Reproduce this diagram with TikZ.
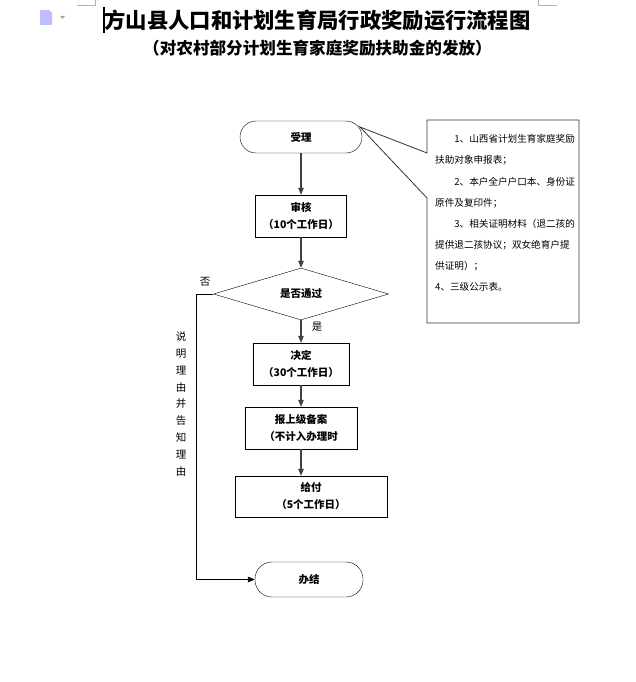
\documentclass[tikz,border=0pt]{standalone}
\usepackage{fontspec}
\usepackage{xcolor}
\usetikzlibrary{shapes.geometric, arrows.meta}
\newfontfamily\cjk{Noto Sans CJK SC}

\tikzset{
  terminal/.style={rectangle, draw, rounded corners=16pt, inner sep=0pt,
    font=\cjk\bfseries\fontsize{10.5}{12}\selectfont},
  procbox/.style={rectangle, draw, inner sep=0pt, align=center,
    font=\cjk\bfseries\fontsize{10.5}{17}\selectfont},
  decision/.style={diamond, draw, inner sep=0pt, minimum width=175pt, minimum height=37pt,
    font=\cjk\bfseries\fontsize{10.5}{12}\selectfont},
  flow/.style={draw=black!75, line width=1.1pt, -{Triangle[length=7pt,width=5.5pt]}},
  tag/.style={font=\cjk\fontsize{10.5}{12}\selectfont, inner sep=0pt}
}

\begin{document}
\begin{tikzpicture}[x=1pt, y=-1pt]
  \useasboundingbox (0,0) rectangle (635,682);

  % page marks, icon and cursor
  \draw[black!30] (77,5) -- (95,5) -- (95,0);
  \draw[black!30] (538,0) -- (538,5) -- (557,5);
  \fill[blue!25] (40,10) -- (49,10) -- (52,13) -- (52,25) -- (40,25) -- cycle;
  \fill[black!35] (60,16) -- (65,16) -- (62.5,19) -- cycle;
  \draw[line width=1.2pt] (104,7) -- (104,33);

  % titles
  \node[font=\cjk\bfseries\fontsize{21.3}{24}\selectfont] (title) at (317.5,20) {方山县人口和计划生育局行政奖励运行流程图};
  \node[font=\cjk\bfseries\fontsize{16.6}{19}\selectfont] (subtitle) at (317.5,48) {（对农村部分计划生育家庭奖励扶助金的发放）};

  % flow
  \node[terminal, minimum width=122pt, minimum height=32pt] (accept) at (301,137) {受理};
  \node[procbox, minimum width=91pt, minimum height=42pt] (review) at (301,216) {审核\\（10个工作日）};
  \node[decision] (check) at (301,294) {是否通过};
  \node[procbox, minimum width=96pt, minimum height=42pt] (decide) at (301,364) {决定\\（30个工作日）};
  \node[procbox, minimum width=112pt, minimum height=42pt] (report) at (301,428) {报上级备案\\（不计入办理时};
  \node[procbox, minimum width=152pt, minimum height=41pt] (pay) at (311,496.5) {给付\\（5个工作日）};
  \node[terminal, rounded corners=17pt, minimum width=108pt, minimum height=35pt] (finish) at (309,579.5) {办结};

  \node[tag] (no) at (205,282) {否};
  \node[tag] (yes) at (317,327) {是};
  \node[tag, align=center, font=\cjk\fontsize{10.5}{16.8}\selectfont] (reason) at (181,404)
    {说\\明\\理\\由\\并\\告\\知\\理\\由};

  \coordinate (nobend) at (196,294);

  \draw[flow] (accept) -- (review);
  \draw[flow] (review) -- (check);
  \draw[flow] (check) -- (decide);
  \draw[flow] (decide) -- (report);
  \draw[flow] (report) -- (report |- pay.north);
  \draw[black, line width=0.9pt, -{Triangle[length=7pt,width=5.5pt]}]
    (check.west) -- (nobend) |- (finish.west);

  % materials note
  \coordinate (tip) at (360,127);
  \draw[black!80, line width=0.8pt] (427,153) -- (427,120) -- (579,120) -- (579,323)
    -- (427,323) -- (427,198) -- (tip) -- cycle;
  \node[anchor=west, align=left, inner sep=0pt,
    font=\cjk\fontsize{9.6}{21.1}\selectfont] (note) at (435,213)
    {\hspace*{2em}1、山西省计划生育家庭奖励\\
     扶助对象申报表；\\
     \hspace*{2em}2、本户全户户口本、身份证\\
     原件及复印件；\\
     \hspace*{2em}3、相关证明材料（退二孩的\\
     提供退二孩协议；双女绝育户提\\
     供证明）；\\
     4、三级公示表。};
\end{tikzpicture}
\end{document}
